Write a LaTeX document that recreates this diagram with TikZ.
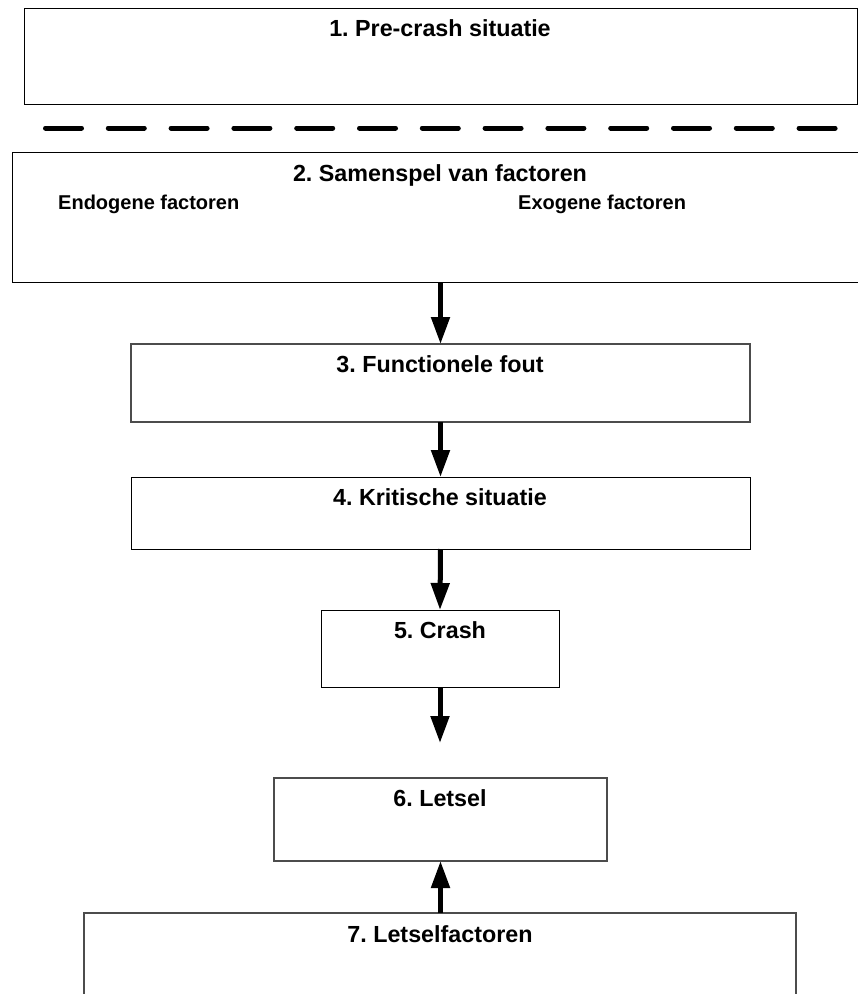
\documentclass[tikz,border=0pt]{standalone}
\usepackage{fontspec}
\setmainfont{Liberation Sans}
\usetikzlibrary{arrows.meta}
\frenchspacing
\begin{document}
\begin{tikzpicture}[x=1pt,y=-1pt,
  box/.style={draw=black,line width=1pt,rectangle,inner sep=0pt,outer sep=0pt,anchor=north west,fill=white},
  greybox/.style={box,draw=black!70,line width=1.4pt},
  ttl/.style={anchor=base,inner sep=0pt,font=\bfseries\fontsize{23.3}{27}\selectfont},
  sub/.style={anchor=base west,inner sep=0pt,font=\bfseries\fontsize{20}{24}\selectfont},
  arr/.style={line width=5pt,-{Triangle[length=27pt,width=18pt]}},
  sep/.style={line width=5pt,line cap=round,dash pattern=on 36pt off 26.8pt}]
\useasboundingbox (0,0) rectangle (858,994);
\clip (0,0) rectangle (858,994);
% boxes
\node[box,minimum width=833pt,minimum height=96pt] (b1) at (24,8) {};
\node[box,minimum width=868pt,minimum height=130pt] (b2) at (12,152) {};
\node[greybox,minimum width=619pt,minimum height=78pt] (b3) at (131,344) {};
\node[box,minimum width=619pt,minimum height=72pt] (b4) at (131,477) {};
\node[box,minimum width=238pt,minimum height=77pt] (b5) at (321,610) {};
\node[greybox,minimum width=333pt,minimum height=83pt] (b6) at (274,778) {};
\node[greybox,minimum width=712pt,minimum height=110pt] (b7) at (84,913) {};
% texts
\node[ttl] (t1) at (440,36) {1. Pre-crash situatie};
\node[ttl] (t2) at (440,181) {2. Samenspel van factoren};
\node[sub] (t2a) at (58,209) {Endogene factoren};
\node[sub] (t2b) at (518,209) {Exogene factoren};
\node[ttl] (t3) at (440,372) {3. Functionele fout};
\node[ttl] (t4) at (440,505) {4. Kritische situatie};
\node[ttl] (t5) at (440,638) {5. Crash};
\node[ttl] (t6) at (440,806) {6. Letsel};
\node[ttl] (t7) at (440,942) {7. Letselfactoren};
% separator
\coordinate (s1) at (45.5,128);
\coordinate (s2) at (836,128);
\draw[sep] (s1) -- (s2);
% arrows
\coordinate (e5) at (440,743);
\draw[arr] (b2.south -| b3.north) -- (b3.north);
\draw[arr] (b3.south) -- (b4.north);
\draw[arr] (b4.south) -- (b5.north);
\draw[arr] (b5.south) -- (e5);
\draw[arr] (b7.north -| b6.south) -- (b6.south);
\end{tikzpicture}
\end{document}
